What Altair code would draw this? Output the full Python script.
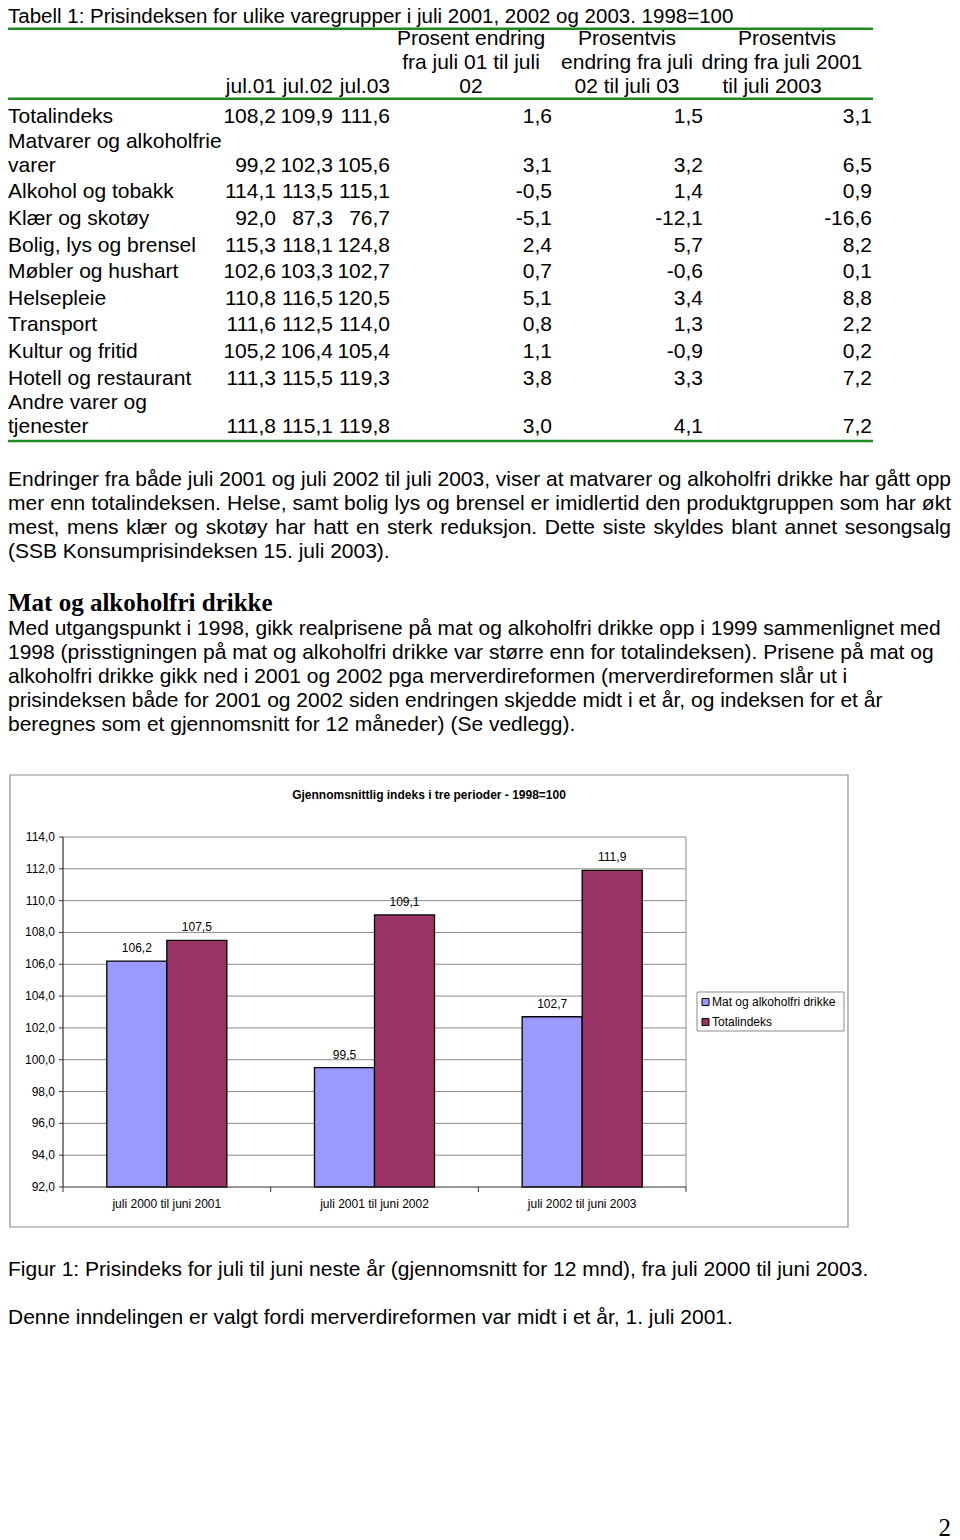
import altair as alt
import pandas as pd

# ---------------- data ----------------
table_title = "Tabell 1: Prisindeksen for ulike varegrupper i juli 2001, 2002 og 2003. 1998=100"
index_heads = ["jul.01", "jul.02", "jul.03"]
change_heads = [
    ["Prosent endring", "fra juli 01 til juli", "02"],
    ["Prosentvis", "endring fra juli", "02 til juli 03"],
    ["Prosentvis", "dring fra juli 2001", "til juli 2003"],
]
row_labels = [
    "Totalindeks",
    "Matvarer og alkoholfrie\nvarer",
    "Alkohol og tobakk",
    "Klær og skotøy",
    "Bolig, lys og brensel",
    "Møbler og hushart",
    "Helsepleie",
    "Transport",
    "Kultur og fritid",
    "Hotell og restaurant",
    "Andre varer og\ntjenester",
]
jul01 = [108.2, 99.2, 114.1, 92.0, 115.3, 102.6, 110.8, 111.6, 105.2, 111.3, 111.8]
jul02 = [109.9, 102.3, 113.5, 87.3, 118.1, 103.3, 116.5, 112.5, 106.4, 115.5, 115.1]
jul03 = [111.6, 105.6, 115.1, 76.7, 124.8, 102.7, 120.5, 114.0, 105.4, 119.3, 119.8]
pct_01_02 = [1.6, 3.1, -0.5, -5.1, 2.4, 0.7, 5.1, 0.8, 1.1, 3.8, 3.0]
pct_02_03 = [1.5, 3.2, 1.4, -12.1, 5.7, -0.6, 3.4, 1.3, -0.9, 3.3, 4.1]
pct_01_03 = [3.1, 6.5, 0.9, -16.6, 8.2, 0.1, 8.8, 2.2, 0.2, 7.2, 7.2]

para1 = [
    "Endringer fra både juli 2001 og juli 2002 til juli 2003, viser at matvarer og alkoholfri drikke har gått opp",
    "mer enn totalindeksen. Helse, samt bolig lys og brensel er imidlertid den produktgruppen som har økt",
    "mest, mens klær og skotøy har hatt en sterk reduksjon. Dette siste skyldes blant annet sesongsalg",
    "(SSB Konsumprisindeksen 15. juli 2003).",
]
heading = "Mat og alkoholfri drikke"
para2 = [
    "Med utgangspunkt i 1998, gikk realprisene på mat og alkoholfri drikke opp i 1999 sammenlignet med",
    "1998 (prisstigningen på mat og alkoholfri drikke var større enn for totalindeksen). Prisene på mat og",
    "alkoholfri drikke gikk ned i 2001 og 2002 pga merverdireformen (merverdireformen slår ut i",
    "prisindeksen både for 2001 og 2002 siden endringen skjedde midt i et år, og indeksen for et år",
    "beregnes som et gjennomsnitt for 12 måneder) (Se vedlegg).",
]
chart_title = "Gjennomsnittlig indeks i tre perioder - 1998=100"
periods = ["juli 2000 til juni 2001", "juli 2001 til juni 2002", "juli 2002 til juni 2003"]
series = ["Mat og alkoholfri drikke", "Totalindeks"]
mat_values = [106.2, 99.5, 102.7]
total_values = [107.5, 109.1, 111.9]
y_ticks = [92, 94, 96, 98, 100, 102, 104, 106, 108, 110, 112, 114]
captions = [
    "Figur 1: Prisindeks for juli til juni neste år (gjennomsnitt for 12 mnd), fra juli 2000 til juni 2003.",
    "Denne inndelingen er valgt fordi merverdireformen var midt i et år, 1. juli 2001.",
]
page_number = "2"

# ---------------- layout helpers ----------------
M = 8  # page margin
LEFT = 8  # left text edge (page coordinates)
RIGHT = 951  # right edge of justified text
SANS = "Liberation Sans"
SERIF = "Liberation Serif"
GREEN = "#1f8a1f"
GRID = "#8c8c8c"
AXIS = "#333333"


def px(v):
    return v - M


def fmt(v):
    return f"{v:.1f}".replace(".", ",")


ARIAL = {" ": 278, "(": 333, ")": 333, ",": 278, "-": 333, ".": 278, ":": 278, "=": 584,
         "A": 667, "B": 667, "C": 722, "D": 722, "E": 667, "F": 611, "G": 778, "H": 722, "I": 278,
         "J": 500, "K": 667, "L": 556, "M": 833, "N": 722, "O": 778, "P": 667, "Q": 778, "R": 722,
         "S": 667, "T": 611, "U": 722, "V": 667, "W": 944, "X": 667, "Y": 667, "Z": 611,
         "a": 556, "b": 556, "c": 500, "d": 556, "e": 556, "f": 278, "g": 556, "h": 556, "i": 222,
         "j": 222, "k": 500, "l": 222, "m": 833, "n": 556, "o": 556, "p": 556, "q": 556, "r": 333,
         "s": 500, "t": 278, "u": 556, "v": 500, "w": 722, "x": 500, "y": 500, "z": 500,
         "å": 556, "ø": 611, "æ": 889}


def tw(s, size):
    return sum(ARIAL.get(c, 556) for c in s) * size / 1000.0


def text_layer(rows, align="left", size=21, font=SANS, weight="normal"):
    df = pd.DataFrame([{"t": t, "x": px(x), "y": px(y)} for t, x, y in rows])
    return alt.Chart(df).mark_text(
        align=align, baseline="middle", fontSize=size, font=font,
        fontWeight=weight, color="black"
    ).encode(
        x=alt.X("x:Q", scale=None, axis=None),
        y=alt.Y("y:Q", scale=None, axis=None),
        text="t:N",
    )


layers = []

# ---------------- table ----------------
left_rows = []
right_rows = []
center_rows = []
for h, xr in zip(index_heads, [276, 333, 390]):
    right_rows.append((h, xr, 87))
head_x = [[471, 471, 471], [627, 627, 627], [787, 782, 772]]
for lines, xs_ in zip(change_heads, head_x):
    for k, (ln, xc) in enumerate(zip(lines, xs_)):
        center_rows.append((ln, xc, 39 + 24 * k))

cols = [jul01, jul02, jul03, pct_01_02, pct_02_03, pct_01_03]
col_right = [276, 333, 390, 552, 703, 872]
y_last = 117
for i, lab in enumerate(row_labels):
    lines = lab.split("\n")
    if i > 0:
        y_last += 26.6 if len(lines) == 1 else 24 * (len(lines) - 1) + 24.8
    for k, ln in enumerate(lines):
        left_rows.append((ln, LEFT, y_last - 24 * (len(lines) - 1 - k)))
    for c, col in enumerate(cols):
        right_rows.append((fmt(col[i]), col_right[c], y_last))

rules_df = pd.DataFrame({"x1": [px(8)] * 3, "x2": [px(873)] * 3, "y": [px(28.8), px(98.8), px(441)]})
layers.append(
    alt.Chart(rules_df).mark_rule(color=GREEN, strokeWidth=2.6).encode(
        x=alt.X("x1:Q", scale=None, axis=None), x2="x2:Q",
        y=alt.Y("y:Q", scale=None, axis=None))
)

# ---------------- paragraphs ----------------
body_left = []
for j, ln in enumerate(para1):
    y = 480 + 24 * j
    if j < len(para1) - 1:
        words = ln.split(" ")
        total = sum(tw(w, 21) for w in words)
        gap = (RIGHT - LEFT - total) / (len(words) - 1)
        x = LEFT
        for w in words:
            body_left.append((w, x, y))
            x += tw(w, 21) + gap
    else:
        body_left.append((ln, LEFT, y))
for j, ln in enumerate(para2):
    body_left.append((ln, LEFT, 629 + 24 * j))
body_left.append((captions[0], LEFT, 1270))
body_left.append((captions[1], LEFT, 1318))

layers.append(text_layer([(table_title, LEFT, 17)], align="left", size=20.5))
layers.append(text_layer(left_rows + body_left, align="left"))
layers.append(text_layer(right_rows, align="right"))
layers.append(text_layer(center_rows, align="center"))
layers.append(text_layer([(heading, LEFT, 603)], align="left", size=25, font=SERIF, weight="bold"))
layers.append(text_layer([(page_number, 951, 1528)], align="right", size=25, font=SERIF))

# ---------------- bar chart ----------------
one = pd.DataFrame({"a": [0]})
frame = alt.Chart(one).mark_rect(fill="white", stroke=GRID, strokeWidth=1.2).encode(
    x=alt.value(px(10)), x2=alt.value(px(848)), y=alt.value(px(775)), y2=alt.value(px(1227)))
layers.append(frame)
layers.append(text_layer([(chart_title, 429, 795)], align="center", size=12, weight="bold"))

xs = alt.Scale(domain=periods, range=[px(63), px(686)], paddingInner=0, paddingOuter=0)
ys = alt.Scale(domain=[92, 114], range=[px(1187), px(837)], nice=False, zero=False)
cs = alt.Scale(domain=series, range=["#9999FF", "#993366"])

tick_df = pd.DataFrame({"v": y_ticks, "label": [fmt(v) for v in y_ticks]})
grid = alt.Chart(tick_df[tick_df.v > 92]).mark_rule(color=GRID, strokeWidth=1).encode(
    y=alt.Y("v:Q", scale=ys, axis=None), x=alt.value(px(63)), x2=alt.value(px(686)))
ytick_marks = alt.Chart(tick_df).mark_rule(color=AXIS, strokeWidth=1).encode(
    y=alt.Y("v:Q", scale=ys, axis=None), x=alt.value(px(59)), x2=alt.value(px(63)))
ylabels = alt.Chart(tick_df).mark_text(align="right", baseline="middle", fontSize=12, font=SANS, color="black").encode(
    y=alt.Y("v:Q", scale=ys, axis=None), x=alt.value(px(55)), text="label:N")
layers.append(alt.layer(grid, ytick_marks, ylabels))

right_border = alt.Chart(one).mark_rule(color=GRID, strokeWidth=1).encode(
    x=alt.value(px(686)), y=alt.value(px(837)), y2=alt.value(px(1187)))
layers.append(right_border)

bar_df = pd.DataFrame({
    "period": periods * 2,
    "series": [series[0]] * 3 + [series[1]] * 3,
    "value": mat_values + total_values,
})
bar_df["label"] = bar_df["value"].map(fmt)
base = alt.Chart(bar_df).encode(
    x=alt.X("period:N", scale=xs, axis=None),
    xOffset=alt.XOffset("series:N", scale=alt.Scale(domain=series, paddingInner=0, paddingOuter=0.73)),
    y=alt.Y("value:Q", scale=ys, axis=None),
)
bars = base.mark_bar(stroke="black", strokeWidth=1.3).encode(
    y2=alt.datum(92), color=alt.Color("series:N", scale=cs, legend=None))
vlabels = base.mark_text(dy=-13, baseline="middle", fontSize=12, font=SANS, color="black").encode(text="label:N")
layers.append(alt.layer(bars, vlabels))

axis_left = alt.Chart(one).mark_rule(color=AXIS, strokeWidth=1.2).encode(
    x=alt.value(px(63)), y=alt.value(px(837)), y2=alt.value(px(1187)))
axis_bottom = alt.Chart(one).mark_rule(color=AXIS, strokeWidth=1.2).encode(
    x=alt.value(px(63)), x2=alt.value(px(686)), y=alt.value(px(1187)))
layers.append(axis_left)
layers.append(axis_bottom)

per_df = pd.DataFrame({"period": periods})
xticks = alt.Chart(per_df).mark_rule(color=AXIS, strokeWidth=1).encode(
    x=alt.X("period:N", scale=xs, axis=None, bandPosition=0), y=alt.value(px(1187)), y2=alt.value(px(1192)))
xtick_end = alt.Chart(one).mark_rule(color=AXIS, strokeWidth=1).encode(
    x=alt.value(px(686)), y=alt.value(px(1187)), y2=alt.value(px(1192)))
xlabels = alt.Chart(per_df).mark_text(baseline="middle", fontSize=12, font=SANS, color="black").encode(
    x=alt.X("period:N", scale=xs, axis=None, bandPosition=0.5), y=alt.value(px(1204)), text="period:N")
layers.append(alt.layer(xticks, xlabels))
layers.append(xtick_end)

# legend
legend_box = alt.Chart(one).mark_rect(fill="white", stroke=GRID, strokeWidth=1).encode(
    x=alt.value(px(697)), x2=alt.value(px(844)), y=alt.value(px(992)), y2=alt.value(px(1031)))
layers.append(legend_box)
leg_df = pd.DataFrame({"series": series})
ly = alt.Y("series:N", scale=alt.Scale(type="point", domain=series, range=[px(1002), px(1022)], padding=0), axis=None)
swatch = alt.Chart(leg_df).mark_square(size=49, stroke="black", strokeWidth=1, opacity=1).encode(
    x=alt.value(px(705.5)), y=ly, color=alt.Color("series:N", scale=cs, legend=None))
legtext = alt.Chart(leg_df).mark_text(align="left", baseline="middle", fontSize=12, font=SANS, color="black").encode(
    x=alt.value(px(712)), y=ly, text="series:N")
layers.append(alt.layer(swatch, legtext))

chart = alt.layer(*layers).resolve_scale(
    x="independent", y="independent", color="independent"
).properties(
    width=944, height=1532, padding=0,
    autosize=alt.AutoSizeParams(type="none"),
    background="white",
).configure_view(stroke=None)

chart.save("out.html", embed_options={"renderer": "svg", "actions": False})
